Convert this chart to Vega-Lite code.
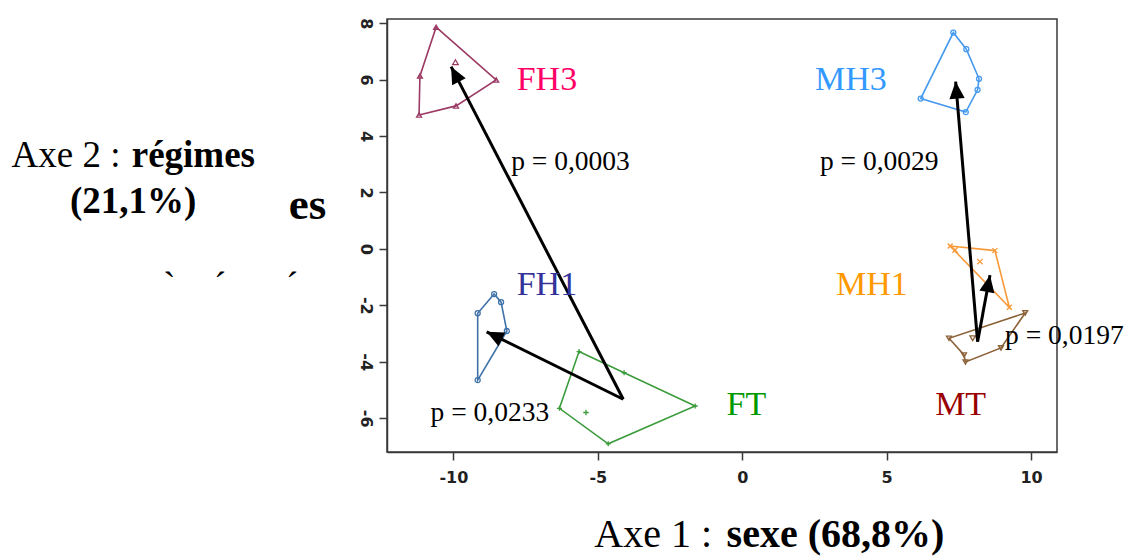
{
  "$schema": "https://vega.github.io/schema/vega-lite/v6.json",
  "width": 670,
  "height": 433,
  "autosize": {"type": "none"},
  "padding": {"left": 387, "top": 19, "right": 68, "bottom": 104},
  "background": "white",
  "config": {
    "view": {"stroke": "#3a3a3a", "strokeWidth": 1.5},
    "axis": {
      "domainColor": "#3a3a3a", "domainWidth": 1.5,
      "tickColor": "#3a3a3a", "tickWidth": 1.5, "tickSize": 8,
      "labelFont": "DejaVu Sans", "labelFontWeight": "bold", "labelFontSize": 16,
      "labelColor": "#222222", "grid": false
    },
    "axisX": {"labelFontSize": 16},
    "axisY": {"labelFontSize": 16},
    "text": {"font": "Liberation Serif"}
  },
  "datasets": {
    "hull": [
      {"group": "FH3", "order": 1, "x": -10.6, "y": 7.86},
      {"group": "FH3", "order": 2, "x": -8.52, "y": 5.99},
      {"group": "FH3", "order": 3, "x": -9.91, "y": 5.07},
      {"group": "FH3", "order": 4, "x": -11.19, "y": 4.75},
      {"group": "FH3", "order": 5, "x": -11.16, "y": 6.13},
      {"group": "FH1", "order": 1, "x": -8.59, "y": -1.6},
      {"group": "FH1", "order": 2, "x": -8.35, "y": -1.89},
      {"group": "FH1", "order": 3, "x": -8.15, "y": -2.91},
      {"group": "FH1", "order": 4, "x": -9.16, "y": -4.65},
      {"group": "FH1", "order": 5, "x": -9.16, "y": -2.28},
      {"group": "FT", "order": 1, "x": -5.65, "y": -3.64},
      {"group": "FT", "order": 2, "x": -4.09, "y": -4.39},
      {"group": "FT", "order": 3, "x": -1.63, "y": -5.57},
      {"group": "FT", "order": 4, "x": -4.64, "y": -6.91},
      {"group": "FT", "order": 5, "x": -6.33, "y": -5.65},
      {"group": "MH3", "order": 1, "x": 7.31, "y": 7.67},
      {"group": "MH3", "order": 2, "x": 7.76, "y": 7.08},
      {"group": "MH3", "order": 3, "x": 8.2, "y": 6.03},
      {"group": "MH3", "order": 4, "x": 8.15, "y": 5.64},
      {"group": "MH3", "order": 5, "x": 7.74, "y": 4.85},
      {"group": "MH3", "order": 6, "x": 6.18, "y": 5.33},
      {"group": "MH1", "order": 1, "x": 7.2, "y": 0.1},
      {"group": "MH1", "order": 2, "x": 8.75, "y": -0.06},
      {"group": "MH1", "order": 3, "x": 9.25, "y": -2.07},
      {"group": "MT", "order": 1, "x": 7.16, "y": -3.17},
      {"group": "MT", "order": 2, "x": 7.68, "y": -3.76},
      {"group": "MT", "order": 3, "x": 7.73, "y": -4.01},
      {"group": "MT", "order": 4, "x": 8.96, "y": -3.51},
      {"group": "MT", "order": 5, "x": 9.8, "y": -2.27}
    ],
    "centers": [
      {"group": "FH3", "x": -9.93, "y": 6.62},
      {"group": "FT", "x": -5.41, "y": -5.8},
      {"group": "MH1", "x": 8.23, "y": -0.45},
      {"group": "MH1", "x": 7.37, "y": -0.04},
      {"group": "MT", "x": 7.98, "y": -3.17}
    ],
    "arrows": [
      {"bx": -4.12, "by": -5.33, "tx": -10.08, "ty": 6.46},
      {"bx": -4.12, "by": -5.33, "tx": -8.85, "ty": -2.94},
      {"bx": 8.15, "by": -3.29, "tx": 7.39, "ty": 5.93},
      {"bx": 8.15, "by": -3.29, "tx": 8.58, "ty": -0.93}
    ],
    "labels": [
      {"group": "FH3", "x": -7.81, "y": 5.63},
      {"group": "MH3", "x": 2.52, "y": 5.63},
      {"group": "FH1", "x": -7.81, "y": -1.63},
      {"group": "MH1", "x": 3.25, "y": -1.63},
      {"group": "FT", "x": -0.54, "y": -5.89},
      {"group": "MT", "x": 6.68, "y": -5.89}
    ],
    "pvals": [
      {"text": "p = 0,0003", "x": -8.0, "y": 2.8},
      {"text": "p = 0,0029", "x": 2.69, "y": 2.8},
      {"text": "p = 0,0233", "x": -10.79, "y": -6.09},
      {"text": "p = 0,0197", "x": 9.1, "y": -3.37}
    ],
    "titles": [
      {"text": "Axe 1 : ", "weight": "normal", "size": "big", "x": -5.12, "y": -10.57},
      {"text": "sexe (68,8%)", "weight": "bold", "size": "big", "x": -0.54, "y": -10.57},
      {"text": "Axe 2 : ", "weight": "normal", "size": "mid", "x": -25.3, "y": 2.91},
      {"text": "régimes", "weight": "bold", "size": "mid", "x": -21.14, "y": 2.91},
      {"text": "(21,1%)", "weight": "bold", "size": "mid", "x": -23.28, "y": 1.26},
      {"text": "es", "weight": "bold", "size": "huge", "x": -15.7, "y": 1.05},
      {"text": "`", "weight": "normal", "size": "mid", "x": -20.05, "y": -1.74},
      {"text": "´", "weight": "normal", "size": "mid", "x": -18.29, "y": -1.74},
      {"text": "´", "weight": "normal", "size": "mid", "x": -15.8, "y": -1.74}
    ]
  },
  "layer": [
    {
      "data": {"name": "hull"},
      "mark": {"type": "line", "interpolate": "linear-closed", "strokeWidth": 1.6},
      "encoding": {
        "x": {"field": "x", "type": "quantitative", "title": null,
              "scale": {"domain": [-12.3, 10.9], "nice": false, "zero": false},
              "axis": {"values": [-10, -5, 0, 5, 10], "labelExpr": "'' + datum.value", "labelPadding": 9, "labelFont": "DejaVu Sans", "labelFontSize": 16, "labelFontWeight": "bold", "title": null}},
        "y": {"field": "y", "type": "quantitative", "title": null,
              "scale": {"domain": [-7.2, 8.15], "nice": false, "zero": false},
              "axis": {"values": [-6, -4, -2, 0, 2, 4, 6, 8], "labelExpr": "'' + datum.value", "labelAngle": 90, "labelAlign": "center", "labelBaseline": "top", "labelPadding": 6, "labelFont": "DejaVu Sans", "labelFontSize": 16, "labelFontWeight": "bold", "title": null}},
        "order": {"field": "order", "type": "quantitative"},
        "color": {"field": "group", "type": "nominal", "legend": null,
                  "scale": {"domain": ["FH3", "FH1", "FT", "MH3", "MH1", "MT"],
                            "range": ["#9c3a64", "#3f72a8", "#3c9c3c", "#4499ee", "#f99a3a", "#8c6239"]}}
      }
    },
    {
      "data": {"name": "hull"},
      "mark": {"type": "point", "filled": false, "size": 25, "strokeWidth": 1.3, "opacity": 1},
      "encoding": {
        "x": {"field": "x", "type": "quantitative", "title": null},
        "y": {"field": "y", "type": "quantitative", "title": null},
        "color": {"field": "group", "type": "nominal", "legend": null,
                  "scale": {"domain": ["FH3", "FH1", "FT", "MH3", "MH1", "MT"],
                            "range": ["#9c3a64", "#3f72a8", "#3c9c3c", "#4499ee", "#f99a3a", "#8c6239"]}},
        "shape": {"field": "group", "type": "nominal", "legend": null,
                  "scale": {"domain": ["FH3", "FH1", "FT", "MH3", "MH1", "MT"],
                            "range": ["triangle-up", "circle", "M-1,0L1,0M0,-1L0,1", "circle", "M-1,-1L1,1M1,-1L-1,1", "triangle-down"]}}
      }
    },
    {
      "data": {"name": "centers"},
      "mark": {"type": "point", "filled": false, "size": 30, "strokeWidth": 1.3, "opacity": 1},
      "encoding": {
        "x": {"field": "x", "type": "quantitative", "title": null},
        "y": {"field": "y", "type": "quantitative", "title": null},
        "color": {"field": "group", "type": "nominal", "legend": null,
                  "scale": {"domain": ["FH3", "FH1", "FT", "MH3", "MH1", "MT"],
                            "range": ["#9c3a64", "#3f72a8", "#3c9c3c", "#4499ee", "#f99a3a", "#8c6239"]}},
        "shape": {"field": "group", "type": "nominal", "legend": null,
                  "scale": {"domain": ["FH3", "FH1", "FT", "MH3", "MH1", "MT"],
                            "range": ["triangle-up", "circle", "M-1,0L1,0M0,-1L0,1", "circle", "M-1,-1L1,1M1,-1L-1,1", "triangle-down"]}}
      }
    },
    {
      "data": {"name": "arrows"},
      "mark": {"type": "rule", "color": "black", "strokeWidth": 3},
      "encoding": {
        "x": {"field": "bx", "type": "quantitative", "title": null},
        "y": {"field": "by", "type": "quantitative", "title": null},
        "x2": {"field": "tx"},
        "y2": {"field": "ty"}
      }
    },
    {
      "data": {"name": "arrows"},
      "transform": [
        {"calculate": "atan2((datum.tx - datum.bx) * 28.879, (datum.ty - datum.by) * 28.208) * 180 / PI", "as": "ang"}
      ],
      "mark": {"type": "point", "shape": "M0,0L0.45,1L-0.45,1Z", "filled": true, "color": "black", "opacity": 1, "size": 1156, "strokeWidth": 0},
      "encoding": {
        "x": {"field": "tx", "type": "quantitative", "title": null},
        "y": {"field": "ty", "type": "quantitative", "title": null},
        "angle": {"field": "ang", "type": "quantitative", "scale": null}
      }
    },
    {
      "data": {"name": "labels"},
      "mark": {"type": "text", "align": "left", "baseline": "alphabetic", "fontSize": 34, "font": "Liberation Serif"},
      "encoding": {
        "x": {"field": "x", "type": "quantitative", "title": null},
        "y": {"field": "y", "type": "quantitative", "title": null},
        "text": {"field": "group"},
        "color": {"field": "group", "type": "nominal", "legend": null,
                  "scale": {"domain": ["FH3", "FH1", "FT", "MH3", "MH1", "MT"],
                            "range": ["#ff0066", "#333399", "#009900", "#3399ff", "#ff9900", "#990000"]}}
      }
    },
    {
      "data": {"name": "pvals"},
      "mark": {"type": "text", "align": "left", "baseline": "alphabetic", "fontSize": 27.5, "font": "Liberation Serif", "color": "black"},
      "encoding": {
        "x": {"field": "x", "type": "quantitative", "title": null},
        "y": {"field": "y", "type": "quantitative", "title": null},
        "text": {"field": "text"}
      }
    },
    {
      "data": {"name": "titles"},
      "transform": [{"filter": "datum.weight == 'normal' && datum.size == 'mid'"}],
      "mark": {"type": "text", "align": "left", "baseline": "alphabetic", "fontSize": 37, "font": "Liberation Serif", "color": "black"},
      "encoding": {
        "x": {"field": "x", "type": "quantitative", "title": null},
        "y": {"field": "y", "type": "quantitative", "title": null},
        "text": {"field": "text"}
      }
    },
    {
      "data": {"name": "titles"},
      "transform": [{"filter": "datum.weight == 'bold' && datum.size == 'mid'"}],
      "mark": {"type": "text", "align": "left", "baseline": "alphabetic", "fontSize": 37, "font": "Liberation Serif", "fontWeight": "bold", "color": "black"},
      "encoding": {
        "x": {"field": "x", "type": "quantitative", "title": null},
        "y": {"field": "y", "type": "quantitative", "title": null},
        "text": {"field": "text"}
      }
    },
    {
      "data": {"name": "titles"},
      "transform": [{"filter": "datum.weight == 'normal' && datum.size == 'big'"}],
      "mark": {"type": "text", "align": "left", "baseline": "alphabetic", "fontSize": 40, "font": "Liberation Serif", "color": "black"},
      "encoding": {
        "x": {"field": "x", "type": "quantitative", "title": null},
        "y": {"field": "y", "type": "quantitative", "title": null},
        "text": {"field": "text"}
      }
    },
    {
      "data": {"name": "titles"},
      "transform": [{"filter": "datum.weight == 'bold' && datum.size == 'big'"}],
      "mark": {"type": "text", "align": "left", "baseline": "alphabetic", "fontSize": 40, "font": "Liberation Serif", "fontWeight": "bold", "color": "black"},
      "encoding": {
        "x": {"field": "x", "type": "quantitative", "title": null},
        "y": {"field": "y", "type": "quantitative", "title": null},
        "text": {"field": "text"}
      }
    },
    {
      "data": {"name": "titles"},
      "transform": [{"filter": "datum.size == 'huge'"}],
      "mark": {"type": "text", "align": "left", "baseline": "alphabetic", "fontSize": 45, "font": "Liberation Serif", "fontWeight": "bold", "color": "black"},
      "encoding": {
        "x": {"field": "x", "type": "quantitative", "title": null},
        "y": {"field": "y", "type": "quantitative", "title": null},
        "text": {"field": "text"}
      }
    }
  ],
  "resolve": {"scale": {"color": "independent", "shape": "independent"}}
}
